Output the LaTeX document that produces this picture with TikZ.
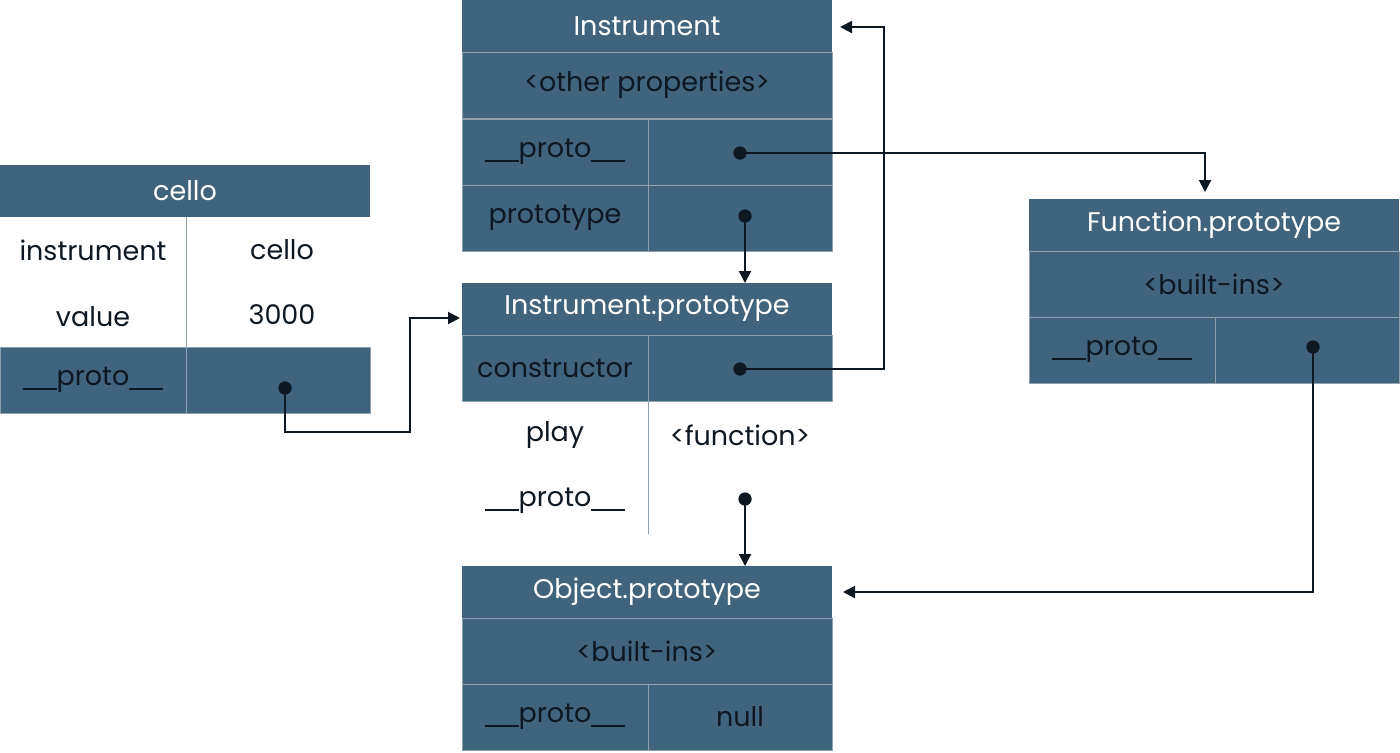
\documentclass[tikz,border=0pt]{standalone}
\usepackage{fontspec}
\setmainfont{Poppins}
\usetikzlibrary{arrows.meta}
\definecolor{boxblue}{HTML}{40637E}
\definecolor{cellline}{HTML}{8FA0AE}
\definecolor{ink}{HTML}{0D1822}
\newcommand{\dunder}{\rule[-2pt]{17pt}{0.9pt}}
\newcommand{\protolabel}{\dunder proto\dunder}
\tikzset{
  base/.style={inner sep=0pt, font=\fontsize{13.5}{15}\selectfont, text=ink, anchor=center},
  hdr/.style={base, fill=boxblue, text=white, minimum width=185pt, minimum height=26pt},
  full/.style={base, fill=boxblue, draw=cellline, line width=0.5pt, minimum width=185pt, minimum height=33pt},
  lcell/.style={base, fill=boxblue, draw=cellline, line width=0.5pt, minimum width=93pt, minimum height=33pt},
  rcell/.style={base, fill=boxblue, draw=cellline, line width=0.5pt, minimum width=92pt, minimum height=33pt},
  lplain/.style={base, minimum width=93pt, minimum height=33pt},
  rplain/.style={base, minimum width=92pt, minimum height=33pt},
  divider/.style={draw=cellline, line width=0.5pt},
  dot/.style={circle, fill=ink, inner sep=0pt, minimum size=6.5pt},
  conn/.style={draw=ink, line width=1pt, -{Triangle[length=6pt,width=6pt]}},
}
\begin{document}
\begin{tikzpicture}[x=0.5pt, y=-0.5pt]
\useasboundingbox (0,0) rectangle (1400,752);

% cello
\node[hdr] (celloT) at (185,191) {cello};
\node[lplain] (celloIL) at (93,250) {instrument};
\node[rplain] (celloIR) at (282,250) {cello};
\node[lplain] (celloVL) at (93,317) {value};
\node[rplain] (celloVR) at (282,315) {3000};
\node[lcell] (celloPL) at (93,380) {\protolabel};
\node[rcell] (celloPR) at (278,380) {};
\draw[divider] (celloIL.north east) -- (celloVL.south east);

% Instrument
\node[hdr] (instT) at (647,26) {Instrument};
\node[full] (instO) at (647,85) {<other properties>};
\node[lcell] (instPL) at (555,152) {\protolabel};
\node[rcell] (instPR) at (740,152) {};
\node[lcell] (instTL) at (555,218) {prototype};
\node[rcell] (instTR) at (740,218) {};

% Instrument.prototype
\node[hdr] (iptT) at (647,309) {Instrument.prototype};
\node[lcell] (iptCL) at (555,368) {constructor};
\node[rcell] (iptCR) at (740,368) {};
\node[lplain] (iptPL) at (555,435) {play};
\node[rplain] (iptPR) at (740,435) {<function>};
\node[lplain] (iptXL) at (555,501) {\protolabel};
\node[rplain] (iptXR) at (740,501) {};
\draw[divider] (iptPL.north east) -- (iptXL.south east);

% Object.prototype
\node[hdr] (objT) at (647,592) {Object.prototype};
\node[full] (objB) at (647,651) {<built-ins>};
\node[lcell] (objPL) at (555,717) {\protolabel};
\node[rcell] (objPR) at (740,717) {null};

% Function.prototype
\node[hdr] (fnT) at (1214,225) {Function.prototype};
\node[full] (fnB) at (1214,284) {<built-ins>};
\node[lcell] (fnPL) at (1122,350) {\protolabel};
\node[rcell] (fnPR) at (1307,350) {};

% dots
\node[dot] (d1) at (285,388) {};
\node[dot] (d2) at (740,153) {};
\node[dot] (d3) at (745,216) {};
\node[dot] (d4) at (740,369) {};
\node[dot] (d5) at (745,499) {};
\node[dot] (d6) at (1313,347) {};

% bend points and arrow ends
\coordinate (j1) at (410,432);
\coordinate (t1) at (460,318);
\coordinate (t2) at (1205,192);
\coordinate (t3) at (745,283);
\coordinate (j4) at (884,369);
\coordinate (t4) at (840,27);
\coordinate (t5) at (745,566);
\coordinate (t6) at (843,592);

\draw[conn] (d1.center) |- (j1) |- (t1);
\draw[conn] (d2.center) -| (t2);
\draw[conn] (d3.center) -- (t3);
\draw[conn] (d4.center) -- (j4) |- (t4);
\draw[conn] (d5.center) -- (t5);
\draw[conn] (d6.center) |- (t6);

\foreach \d in {d1,d2,d3,d4,d5,d6} \node[dot] at (\d) {};
\end{tikzpicture}
\end{document}
